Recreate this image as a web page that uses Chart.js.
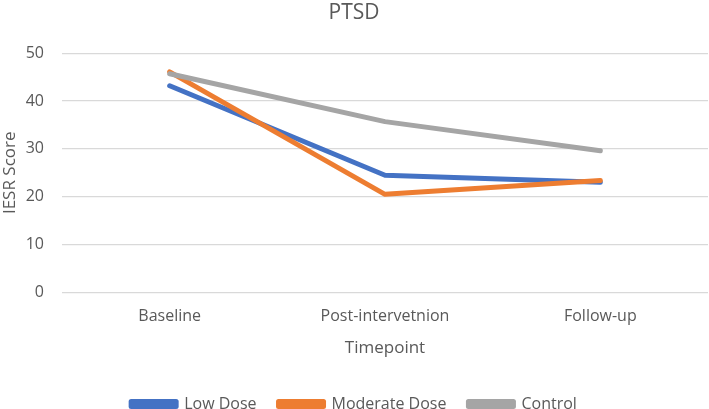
<!DOCTYPE html>
<html>
<head>
<meta charset="utf-8">
<script src="https://cdn.jsdelivr.net/npm/chart.js@4.4.0/dist/chart.umd.min.js"></script>
<style>
    html, body { margin: 0; padding: 0; background: #fff; }
    #wrap { width: 709px; height: 409px; position: relative; }
</style>
</head>
<body>
<div id="wrap"><canvas id="chart"></canvas></div>
<script>
// --- data ---
const timepoints = ["Baseline", "Post-intervetnion", "Follow-up"];
const lowDose = [43.2, 24.5, 23.0];
const moderateDose = [46.1, 20.5, 23.4];
const control = [45.7, 35.7, 29.6];
const yTicks = [0, 10, 20, 30, 40, 50];

const TEXT = "#595959";
const FONT = "'Open Sans', sans-serif";

function _series(label, data, color, order) {
    return {
        label,
        data,
        borderColor: color,
        backgroundColor: color,
        borderWidth: 5,
        borderCapStyle: "round",
        borderJoinStyle: "round",
        pointRadius: 0,
        tension: 0,
        order,
    };
}

new Chart(document.getElementById("chart"), {
    type: "line",
    data: {
        labels: timepoints,
        datasets: [
            _series("Low Dose", lowDose, "#4472C4", 3),
            _series("Moderate Dose", moderateDose, "#ED7D31", 2),
            _series("Control", control, "#A5A5A5", 1),
        ],
    },
    options: {
        responsive: true,
        maintainAspectRatio: false,
        animation: false,
        layout: { padding: { left: 0, right: 1, top: 0, bottom: -13 } },
        plugins: {
            title: {
                display: true,
                text: "PTSD",
                color: TEXT,
                font: { family: FONT, size: 21, weight: "normal" },
                padding: { top: 0, bottom: 28 },
            },
            legend: {
                position: "bottom",
                labels: {
                    color: TEXT,
                    font: { family: FONT, size: 16 },
                    boxWidth: 45,
                    boxHeight: 5,
                    padding: 22,
                    sort: (a, b) => a.datasetIndex - b.datasetIndex,
                },
            },
            tooltip: { enabled: false },
        },
        scales: {
            x: {
                offset: true,
                grid: { display: false },
                border: { display: false },
                ticks: { color: TEXT, font: { family: FONT, size: 16 }, padding: 6 },
                title: {
                    display: true,
                    text: "Timepoint",
                    color: TEXT,
                    font: { family: FONT, size: 17 },
                    padding: { top: 6, bottom: 16 },
                },
            },
            y: {
                min: 0,
                max: 50,
                afterBuildTicks: s => { s.ticks = yTicks.map(v => ({ value: v })); },
                afterFit: s => { s.width = 62; },
                grid: { color: "#D9D9D9", lineWidth: 1.3, drawTicks: false },
                border: { display: false },
                ticks: { color: TEXT, font: { family: FONT, size: 16 }, padding: 18 },
                title: {
                    display: true,
                    text: "IESR Score",
                    color: TEXT,
                    font: { family: FONT, size: 17 },
                    padding: { top: 0, bottom: 0 },
                },
            },
        },
    },
});
</script>
</body>
</html>
